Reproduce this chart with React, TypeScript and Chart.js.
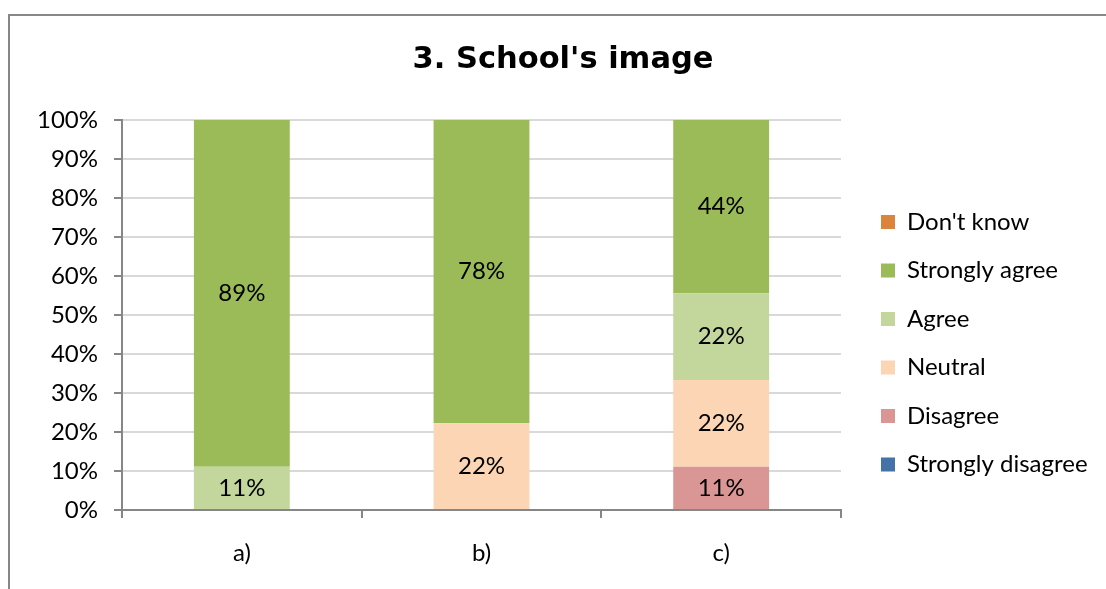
import React, { useEffect, useRef } from 'react';
import { Chart, registerables } from 'chart.js';

Chart.register(...registerables);

const titleText = "3. School's image";
const categories = ['a)', 'b)', 'c)'];
const seriesNames = ['Strongly disagree', 'Disagree', 'Neutral', 'Agree', 'Strongly agree', "Don't know"];
const stronglyDisagree = [0, 0, 0];
const disagree = [0, 0, 11.11];
const neutral = [0, 22.22, 22.22];
const agree = [11.11, 0, 22.22];
const stronglyAgree = [88.89, 77.78, 44.45];
const dontKnow = [0, 0, 0];
const seriesColors = ['#4572A7', '#D99694', '#FCD5B5', '#C3D69B', '#9BBB59', '#DB843D'];
const yMin = 0;
const yMax = 100;
const yStep = 10;

const FONT = 'Lato, "Open Sans", sans-serif';
const TITLE_FONT = '"DejaVu Sans", sans-serif';
const FS = 24;

const CANVAS_W = 1106;
const CANVAS_H = 639;
const CHART_RIGHT = 831;
const LEGEND_PAD = 40;
const LEGEND_BOX = 14;

const segmentLabels = {
  id: 'segmentLabels',
  afterDatasetsDraw(chart: any) {
    const ctx = chart.ctx;
    ctx.save();
    ctx.font = `${FS}px ${FONT}`;
    ctx.fillStyle = '#000000';
    ctx.textAlign = 'center';
    ctx.textBaseline = 'middle';
    chart.data.datasets.forEach((ds: any, i: number) => {
      const meta = chart.getDatasetMeta(i);
      meta.data.forEach((el: any, j: number) => {
        const v = ds.data[j];
        if (!v) return;
        const yMid = (el.y + el.base) / 2;
        ctx.fillText(`${Math.round(v)}%`, el.x, yMid);
      });
    });
    ctx.restore();
  },
};

function legendWidth(): number {
  const c = document.createElement('canvas');
  const ctx = c.getContext('2d');
  if (!ctx) return 260;
  ctx.font = `${FS}px ${FONT}`;
  let maxW = 0;
  seriesNames.forEach((n) => { maxW = Math.max(maxW, ctx.measureText(n).width); });
  return LEGEND_PAD + LEGEND_BOX + FS / 2 + maxW + 10;
}

export default function App() {
  const ref = useRef<HTMLCanvasElement>(null);

  useEffect(() => {
    if (!ref.current) return;
    const seriesValues = [stronglyDisagree, disagree, neutral, agree, stronglyAgree, dontKnow];
    const L = legendWidth();
    const side = Math.max(0, (CANVAS_W - CHART_RIGHT - L));
    const chart = new Chart(ref.current, {
      type: 'bar',
      data: {
        labels: categories,
        datasets: seriesNames.map((name, i) => ({
          label: name,
          data: seriesValues[i],
          backgroundColor: seriesColors[i],
          borderWidth: 0,
          categoryPercentage: 1,
          barPercentage: 0.4,
        })),
      },
      plugins: [segmentLabels],
      options: {
        responsive: false,
        animation: false,
        devicePixelRatio: 1,
        layout: { padding: { left: side, right: side, top: 0, bottom: 0 } },
        font: { family: FONT },
        plugins: {
          title: {
            display: true,
            text: titleText,
            color: '#000000',
            font: { family: TITLE_FONT, size: 30.5, weight: 'bold', lineHeight: 1.2 },
            padding: { top: 25.7, bottom: 41.7 },
          },
          legend: {
            display: true,
            position: 'right',
            align: 'center',
            reverse: true,
            labels: {
              boxWidth: LEGEND_BOX,
              boxHeight: LEGEND_BOX,
              padding: LEGEND_PAD,
              color: '#000000',
              font: { family: FONT, size: FS, lineHeight: '8.5px' },
              generateLabels: (ch: any) =>
                Chart.defaults.plugins.legend.labels
                  .generateLabels(ch)
                  .map((l: any) => ({ ...l, text: [l.text] })),
            },
          },
          tooltip: { enabled: false },
        },
        scales: {
          x: {
            stacked: true,
            offset: true,
            grid: {
              display: true,
              drawOnChartArea: false,
              drawTicks: true,
              tickLength: 8,
              color: '#868686',
              lineWidth: 2,
              offset: true,
            },
            border: { display: true, color: '#868686', width: 2 },
            ticks: { color: '#000000', padding: 21, font: { family: FONT, size: FS } },
            afterFit: (s: any) => { s.height = CANVAS_H - 494; },
          },
          y: {
            stacked: true,
            min: yMin,
            max: yMax,
            ticks: {
              stepSize: yStep,
              color: '#000000',
              padding: 16,
              font: { family: FONT, size: FS },
              callback: (v: any) => `${v}%`,
            },
            grid: {
              color: (c: any) => (c.tick && c.tick.value === 0 ? '#868686' : '#D9D9D9'),
              lineWidth: 2,
              tickLength: 8,
              tickColor: '#868686',
              tickWidth: 2,
            },
            border: { display: true, color: '#868686', width: 2 },
            afterFit: (s: any) => { s.width = 112 - side; },
          },
        },
      } as any,
    });
    return () => chart.destroy();
  }, []);

  return (
    <div
      style={{
        position: 'fixed',
        left: 8,
        top: 14,
        width: 1098,
        height: 575,
        boxSizing: 'border-box',
        borderTop: '2px solid #878787',
        borderLeft: '2px solid #878787',
        overflow: 'hidden',
        background: '#ffffff',
      }}
    >
      <canvas ref={ref} width={CANVAS_W} height={CANVAS_H} style={{ display: 'block' }} />
    </div>
  );
}
